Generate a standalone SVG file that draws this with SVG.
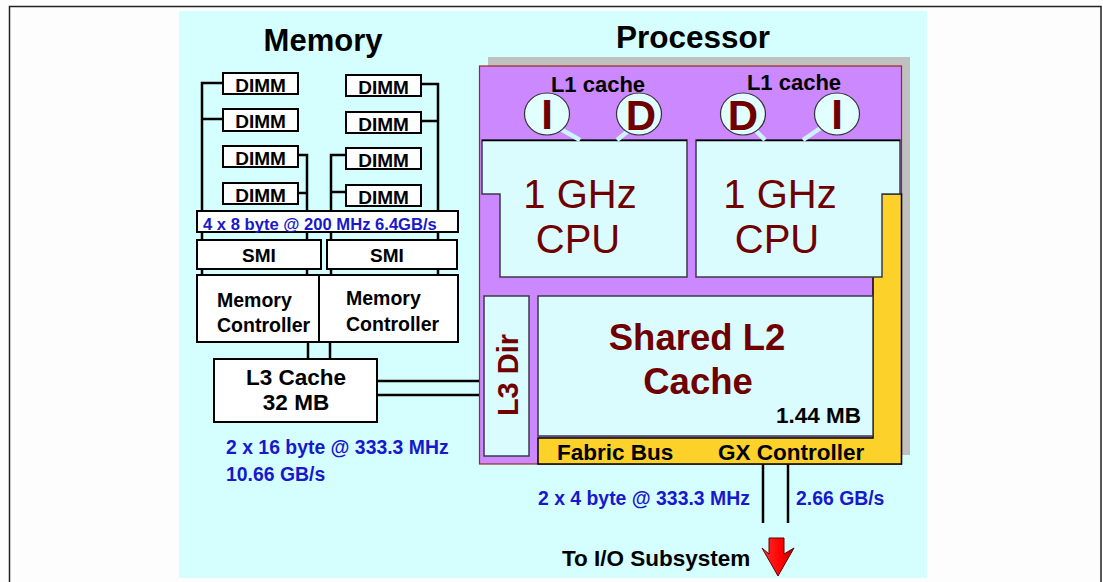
<svg xmlns="http://www.w3.org/2000/svg" width="1103" height="582" viewBox="0 0 1103 582">
<style>
.t{font-family:"Liberation Sans",Arial,sans-serif;font-weight:bold}
.blk{fill:#000}
.blu{fill:#1818cc}
.red{fill:#700000}
.box{fill:#fff;stroke:#000;stroke-width:2}
.w{stroke:#000;stroke-width:2.5;fill:none}
.cy{fill:#dafcff;stroke:#3a3a48;stroke-width:1.5}
.ell{fill:#e2ffff;stroke:#333;stroke-width:1.2}
.lk{stroke:#cdf3ff;stroke-width:4.5;stroke-linecap:butt}
</style>
<defs>
<linearGradient id="ag" x1="0" y1="0" x2="1" y2="0">
<stop offset="0" stop-color="#ff3030"/><stop offset="0.6" stop-color="#ff0000"/><stop offset="1" stop-color="#b00000"/>
</linearGradient>
</defs>
<rect x="0" y="0" width="1103" height="582" fill="#fdfdfd"/>
<rect x="9.5" y="6.5" width="1091.5" height="600" fill="none" stroke="#222" stroke-width="1.5"/>
<rect x="179" y="11" width="748" height="567" fill="#d5ffff"/>

<text class="t blk" x="323" y="51" font-size="31" text-anchor="middle">Memory</text>
<text class="t blk" x="693" y="48" font-size="31.5" text-anchor="middle">Processor</text>

<g id="connectors">
<polyline class="w" points="223,83 202,83 202,275"/>
<line class="w" x1="202" y1="119" x2="223" y2="119"/>
<polyline class="w" points="298,155 307,155 307,275"/>
<line class="w" x1="298" y1="193" x2="307" y2="193"/>
<polyline class="w" points="421,84 438,84 438,275"/>
<line class="w" x1="421" y1="121" x2="438" y2="121"/>
<polyline class="w" points="346,155 331,155 331,275"/>
<line class="w" x1="346" y1="192" x2="331" y2="192"/>
<line class="w" x1="308" y1="342" x2="308" y2="359"/>
<line class="w" x1="330" y1="342" x2="330" y2="359"/>
<line class="w" x1="377" y1="381" x2="479" y2="381"/>
<line class="w" x1="377" y1="395" x2="479" y2="395"/>
<line class="w" x1="763" y1="464" x2="763" y2="523"/>
<line class="w" x1="788" y1="464" x2="788" y2="523"/>
</g>

<g id="dimm-l1"><rect class="box" x="223" y="73" width="75" height="21"/><text class="t blk" x="260.5" y="91.5" font-size="19" text-anchor="middle">DIMM</text></g>
<g id="dimm-l2"><rect class="box" x="223" y="109" width="75" height="22"/><text class="t blk" x="260.5" y="128" font-size="19" text-anchor="middle">DIMM</text></g>
<g id="dimm-l3"><rect class="box" x="223" y="146" width="75" height="21"/><text class="t blk" x="260.5" y="164.5" font-size="19" text-anchor="middle">DIMM</text></g>
<g id="dimm-l4"><rect class="box" x="223" y="183" width="75" height="21"/><text class="t blk" x="260.5" y="201.5" font-size="19" text-anchor="middle">DIMM</text></g>
<g id="dimm-r1"><rect class="box" x="346" y="75" width="75" height="21"/><text class="t blk" x="383.5" y="93.5" font-size="19" text-anchor="middle">DIMM</text></g>
<g id="dimm-r2"><rect class="box" x="346" y="112" width="75" height="21"/><text class="t blk" x="383.5" y="130.5" font-size="19" text-anchor="middle">DIMM</text></g>
<g id="dimm-r3"><rect class="box" x="346" y="148" width="75" height="21"/><text class="t blk" x="383.5" y="166.5" font-size="19" text-anchor="middle">DIMM</text></g>
<g id="dimm-r4"><rect class="box" x="346" y="185" width="75" height="21"/><text class="t blk" x="383.5" y="203.5" font-size="19" text-anchor="middle">DIMM</text></g>

<g id="membus"><rect class="box" x="197" y="211" width="261" height="21"/><text class="t blu" x="203" y="229.5" font-size="16.6">4 x 8 byte @ 200 MHz 6.4GB/s</text></g>

<g id="smi-l"><rect class="box" x="197" y="240" width="124" height="29"/><text class="t blk" x="259" y="262" font-size="19" text-anchor="middle">SMI</text></g>
<g id="smi-r"><rect class="box" x="327" y="240" width="130" height="29"/><text class="t blk" x="387" y="262" font-size="19" text-anchor="middle">SMI</text></g>

<g id="mc-l"><rect class="box" x="197" y="275" width="122" height="67"/><text class="t blk" x="217" y="307" font-size="19.5">Memory</text><text class="t blk" x="217" y="332" font-size="19.5">Controller</text></g>
<g id="mc-r"><rect class="box" x="319" y="275" width="139" height="67"/><text class="t blk" x="346" y="305" font-size="19.5">Memory</text><text class="t blk" x="346" y="331" font-size="19.5">Controller</text></g>

<g id="l3cache"><rect class="box" x="214" y="359" width="163" height="63"/><text class="t blk" x="296" y="385" font-size="22.5" text-anchor="middle">L3 Cache</text><text class="t blk" x="296" y="410" font-size="22.5" text-anchor="middle">32 MB</text></g>

<text class="t blu" x="226" y="454" font-size="19.4">2 x 16 byte @ 333.3 MHz</text>
<text class="t blu" x="226" y="481" font-size="19.4">10.66 GB/s</text>

<g id="processor">
<rect x="488" y="57" width="422" height="398" fill="#c0c0c0"/>
<rect x="479.5" y="66" width="422" height="398" fill="#cc88ff" stroke="#9a2a1a" stroke-width="1.2"/>
<polygon points="873,194 901.5,194 901.5,464 538,464 538,438 873,438" fill="#fcd22a" stroke="#000" stroke-width="1.5"/>
</g>

<g id="l1-left">
<text class="t blk" x="598" y="92" font-size="22" text-anchor="middle">L1 cache</text>
</g>
<g id="l1-right">
<text class="t blk" x="794" y="90" font-size="22" text-anchor="middle">L1 cache</text>
</g>

<g id="cpu-left">
<polygon class="cy" points="482,140 687,140 687,277 500,277 500,194 482,194"/>
<line x1="482" y1="140.5" x2="687" y2="140.5" stroke="#000" stroke-width="1.5"/>
<text x="580" y="208" font-family="Liberation Sans,Arial,sans-serif" font-size="40" fill="#700000" text-anchor="middle">1 GHz</text>
<text x="578" y="253" font-family="Liberation Sans,Arial,sans-serif" font-size="40" fill="#700000" text-anchor="middle">CPU</text>
</g>
<g id="cpu-right">
<polygon class="cy" points="696,140 900,140 900,194 882,194 882,277 696,277"/>
<line x1="696" y1="140.5" x2="900" y2="140.5" stroke="#000" stroke-width="1.5"/>
<text x="780" y="208" font-family="Liberation Sans,Arial,sans-serif" font-size="40" fill="#700000" text-anchor="middle">1 GHz</text>
<text x="777" y="253" font-family="Liberation Sans,Arial,sans-serif" font-size="40" fill="#700000" text-anchor="middle">CPU</text>
</g>

<g id="l1-links">
<line class="lk" x1="557" y1="127" x2="580" y2="140"/>
<line class="lk" x1="633" y1="127" x2="617" y2="140"/>
<line class="lk" x1="752" y1="127" x2="765" y2="140"/>
<line class="lk" x1="822" y1="127" x2="803" y2="140"/>
</g>

<g id="l1-li"><ellipse class="ell" cx="547" cy="114" rx="22.5" ry="21"/><text class="t red" x="547" y="129" font-size="42" text-anchor="middle">I</text></g>
<g id="l1-ld"><ellipse class="ell" cx="639" cy="114" rx="22.5" ry="21"/><text class="t red" x="641" y="130" font-size="42" text-anchor="middle">D</text></g>
<g id="l1-rd"><ellipse class="ell" cx="743" cy="114" rx="22.5" ry="21"/><text class="t red" x="743" y="130" font-size="42" text-anchor="middle">D</text></g>
<g id="l1-ri"><ellipse class="ell" cx="837" cy="114" rx="22.5" ry="21"/><text class="t red" x="837" y="129" font-size="42" text-anchor="middle">I</text></g>

<g id="l3dir">
<rect class="cy" x="484" y="296" width="45" height="160"/>
<text class="t red" font-size="29" text-anchor="middle" transform="translate(517.5,375) rotate(-90)">L3 Dir</text>
</g>

<g id="l2">
<rect class="cy" x="538" y="296" width="335" height="140"/>
<text class="t red" x="697" y="350" font-size="36.5" text-anchor="middle">Shared L2</text>
<text class="t red" x="698" y="394" font-size="36.5" text-anchor="middle">Cache</text>
<text class="t blk" x="861" y="423" font-size="22.5" text-anchor="end">1.44 MB</text>
</g>

<g id="fabric">
<text class="t blk" x="557" y="460" font-size="22.5">Fabric Bus</text>
<text class="t blk" x="718" y="460" font-size="22.5">GX Controller</text>
</g>

<text class="t blu" x="538" y="505" font-size="19.4">2 x 4 byte @ 333.3 MHz</text>
<text class="t blu" x="796" y="505" font-size="19.4">2.66 GB/s</text>

<g id="io">
<text class="t blk" x="562" y="566" font-size="22.5">To I/O Subsystem</text>
<polygon points="769,538 784,538 784,554 794,548 778,576 762,548 769,554" fill="url(#ag)" stroke="#600000" stroke-width="1"/>
</g>
</svg>
